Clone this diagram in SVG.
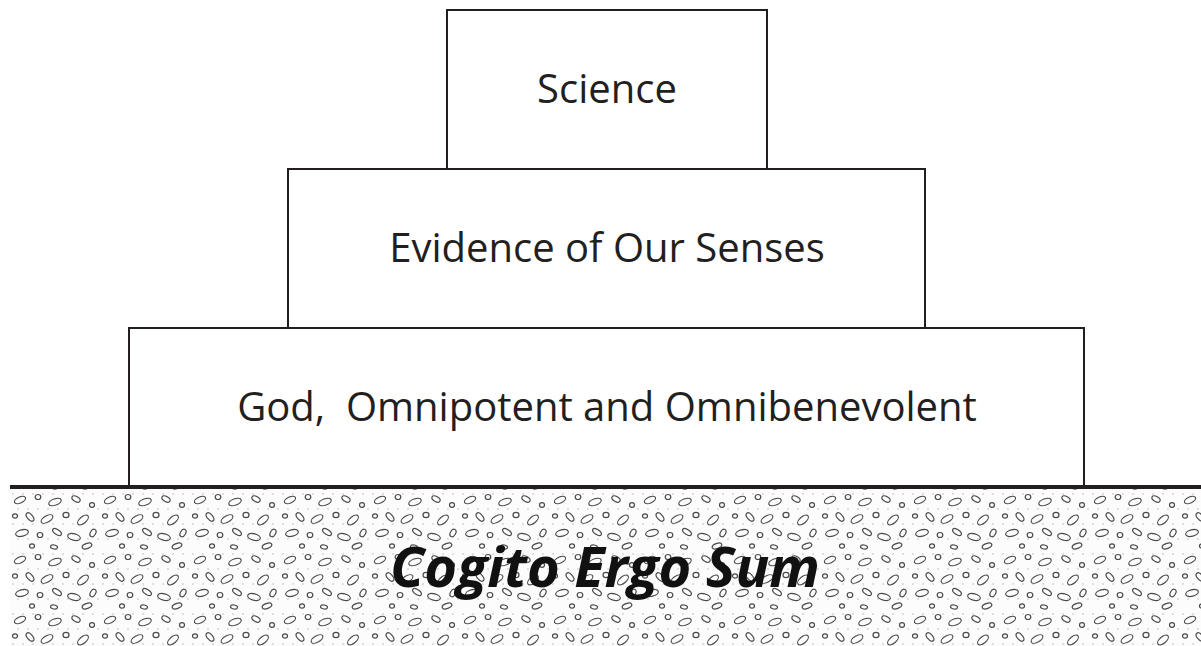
<svg xmlns="http://www.w3.org/2000/svg" width="1201" height="646" viewBox="0 0 1201 646">
<style>
.box{fill:#fff;stroke:#231f20;stroke-width:2}
.lbl{font-family:"Open Sans","Noto Sans",sans-serif;font-size:40px;fill:#231f20;text-anchor:middle;white-space:pre}
.ground{font-family:"Open Sans","Noto Sans",sans-serif;font-size:56px;font-weight:bold;font-style:italic;fill:#111;text-anchor:middle}
.pe{fill:none;stroke:#4a4a4a;stroke-width:1.2}
.pd{fill:#bbb}
</style>
<defs>
<pattern id="gravel" x="10" y="490" width="90" height="60" patternUnits="userSpaceOnUse">
<rect width="90" height="60" fill="#fcfcfc"/>
<g class="pd">
<circle cx="3" cy="4" r="0.8"/><circle cx="13" cy="4" r="0.8"/><circle cx="23" cy="4" r="0.8"/><circle cx="33" cy="4" r="0.8"/><circle cx="43" cy="4" r="0.8"/><circle cx="53" cy="4" r="0.8"/><circle cx="63" cy="4" r="0.8"/><circle cx="73" cy="4" r="0.8"/><circle cx="83" cy="4" r="0.8"/>
<circle cx="8" cy="19" r="0.8"/><circle cx="18" cy="19" r="0.8"/><circle cx="28" cy="19" r="0.8"/><circle cx="38" cy="19" r="0.8"/><circle cx="48" cy="19" r="0.8"/><circle cx="58" cy="19" r="0.8"/><circle cx="68" cy="19" r="0.8"/><circle cx="78" cy="19" r="0.8"/><circle cx="88" cy="19" r="0.8"/>
<circle cx="3" cy="34" r="0.8"/><circle cx="13" cy="34" r="0.8"/><circle cx="23" cy="34" r="0.8"/><circle cx="33" cy="34" r="0.8"/><circle cx="43" cy="34" r="0.8"/><circle cx="53" cy="34" r="0.8"/><circle cx="63" cy="34" r="0.8"/><circle cx="73" cy="34" r="0.8"/><circle cx="83" cy="34" r="0.8"/>
<circle cx="8" cy="49" r="0.8"/><circle cx="18" cy="49" r="0.8"/><circle cx="28" cy="49" r="0.8"/><circle cx="38" cy="49" r="0.8"/><circle cx="48" cy="49" r="0.8"/><circle cx="58" cy="49" r="0.8"/><circle cx="68" cy="49" r="0.8"/><circle cx="78" cy="49" r="0.8"/><circle cx="88" cy="49" r="0.8"/>
</g>
<g class="pe">
<ellipse cx="10" cy="10" rx="6" ry="3" transform="rotate(-25 10 10)"/>
<ellipse cx="28" cy="7" rx="2.8" ry="2.5"/>
<ellipse cx="45" cy="12" rx="6.5" ry="3.2" transform="rotate(-20 45 12)"/>
<ellipse cx="66" cy="9" rx="4.5" ry="2.5" transform="rotate(30 66 9)"/>
<ellipse cx="82" cy="15" rx="2.5" ry="2.3"/>
<ellipse cx="5" cy="26" rx="2.5" ry="2.2"/>
<ellipse cx="20" cy="27" rx="5" ry="2.7" transform="rotate(50 20 27)"/>
<ellipse cx="37" cy="29" rx="6.5" ry="3.2" transform="rotate(-30 37 29)"/>
<ellipse cx="56" cy="25" rx="3" ry="2.6"/>
<ellipse cx="73" cy="30" rx="6.5" ry="3.2" transform="rotate(-40 73 30)"/>
<ellipse cx="12" cy="43" rx="6.5" ry="3.2" transform="rotate(-15 12 43)"/>
<ellipse cx="30" cy="45" rx="2.8" ry="2.5"/>
<ellipse cx="47" cy="42" rx="5" ry="2.5" transform="rotate(35 47 42)"/>
<ellipse cx="64" cy="47" rx="6.5" ry="3.2" transform="rotate(15 64 47)"/>
<ellipse cx="83" cy="43" rx="4" ry="2.6" transform="rotate(-60 83 43)"/>
<ellipse cx="22" cy="56" rx="2.5" ry="2.2"/>
<ellipse cx="44" cy="57" rx="3.5" ry="2" transform="rotate(10 44 57)"/>
<ellipse cx="77" cy="56" rx="5" ry="2.5" transform="rotate(-20 77 56)"/>
</g>
</pattern>
</defs>
<g id="ground">
<rect x="10" y="489" width="1191" height="157" fill="url(#gravel)"/>
<line x1="10" y1="487" x2="1201" y2="487" stroke="#231f20" stroke-width="4"/>
<text class="ground" x="605" y="587">Cogito Ergo Sum</text>
</g>
<g id="god">
<rect class="box" x="129" y="328" width="955" height="158"/>
<text class="lbl" x="607" y="421">God,  Omnipotent and Omnibenevolent</text>
</g>
<g id="evidence">
<rect class="box" x="288" y="169" width="637" height="159"/>
<text class="lbl" x="607" y="262">Evidence of Our Senses</text>
</g>
<g id="science">
<rect class="box" x="447" y="10" width="320" height="159"/>
<text class="lbl" x="607" y="103">Science</text>
</g>
<g id="connectors"/>
</svg>
